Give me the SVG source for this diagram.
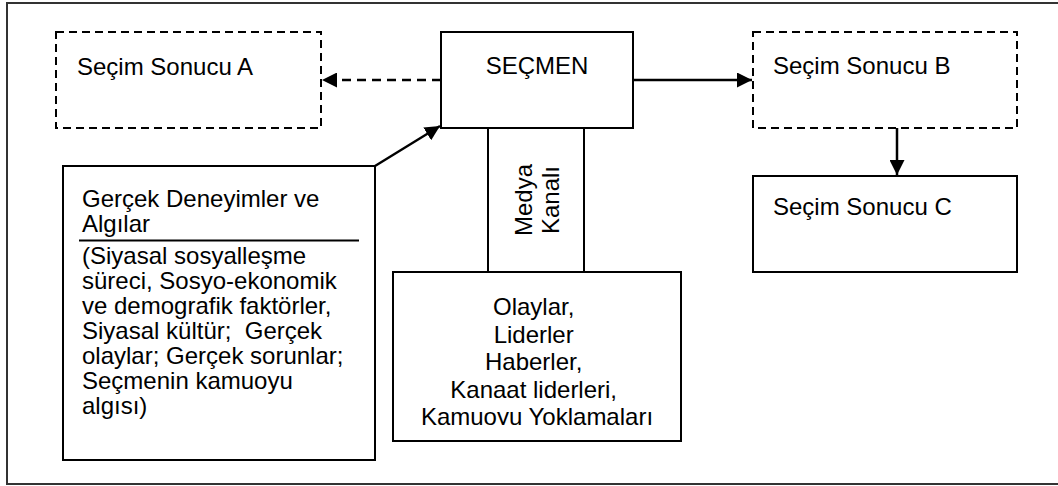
<svg xmlns="http://www.w3.org/2000/svg" width="1058" height="486" viewBox="0 0 1058 486">
<defs>
<style>
.t{font-family:"Liberation Sans",Arial,sans-serif;font-size:24px;fill:#000}
.box{fill:#fff;stroke:#000;stroke-width:2}
.dash{fill:#fff;stroke:#000;stroke-width:2;stroke-dasharray:8 5}
.ln{stroke:#000;stroke-width:2.5;fill:none}
</style>
<marker id="ah" viewBox="0 0 10 10" refX="10" refY="5" markerWidth="15" markerHeight="15" markerUnits="userSpaceOnUse" orient="auto">
<path d="M0,0 L10,5 L0,10 z" fill="#000"/>
</marker>
<clipPath id="clipBot"><rect x="393" y="272" width="288" height="153"/></clipPath>
</defs>
<rect x="7" y="3" width="1070" height="481" fill="#fff" stroke="#333" stroke-width="2"/>
<g id="connectors">
<line class="ln" x1="441" y1="80" x2="322" y2="80" stroke-dasharray="9 6" marker-end="url(#ah)"/>
<line class="ln" x1="633" y1="80" x2="752" y2="80" marker-end="url(#ah)"/>
<line class="ln" x1="897" y1="128" x2="897" y2="175" marker-end="url(#ah)"/>
<line class="ln" x1="375" y1="166" x2="440" y2="126" marker-end="url(#ah)"/>
</g>
<g id="sonucA">
<rect class="dash" x="56" y="32" width="265" height="96"/>
<text class="t" x="77" y="75">Seçim Sonucu A</text>
</g>
<g id="secmen">
<rect class="box" x="441" y="32" width="192" height="96"/>
<text class="t" x="537" y="74" text-anchor="middle">SEÇMEN</text>
</g>
<g id="sonucB">
<rect class="dash" x="753" y="32" width="264" height="96"/>
<text class="t" x="773" y="74">Seçim Sonucu B</text>
</g>
<g id="sonucC">
<rect class="box" x="753" y="176" width="264" height="96"/>
<text class="t" x="773" y="215">Seçim Sonucu C</text>
</g>
<g id="medya">
<rect class="box" x="488" y="128" width="96" height="144"/>
<text class="t" transform="translate(532,200) rotate(-90)" text-anchor="middle">Medya</text>
<text class="t" transform="translate(559,200) rotate(-90)" text-anchor="middle">Kanalı</text>
</g>
<g id="olaylar">
<rect class="box" x="393" y="272" width="288" height="169"/>
<g clip-path="url(#clipBot)">
<text class="t" text-anchor="middle">
<tspan x="537" y="315">Olaylar,</tspan>
<tspan x="537" y="342.5">Liderler</tspan>
<tspan x="537" y="370">Haberler,</tspan>
<tspan x="537" y="397.5">Kanaat liderleri,</tspan>
<tspan x="537" y="425">Kamuoyu Yoklamaları</tspan>
</text>
</g>
</g>
<g id="gercek">
<rect class="box" x="63" y="166" width="312" height="294"/>
<text class="t" x="82" y="207">Gerçek Deneyimler ve</text>
<text class="t" x="82" y="232">Algılar</text>
<line x1="79" y1="240.5" x2="359" y2="240.5" stroke="#000" stroke-width="2"/>
<text class="t" x="82" y="264">(Siyasal sosyalleşme</text>
<text class="t" x="82" y="289">süreci, Sosyo-ekonomik</text>
<text class="t" x="82" y="314">ve demografik faktörler,</text>
<text class="t" x="82" y="339" xml:space="preserve">Siyasal kültür;  Gerçek</text>
<text class="t" x="82" y="364">olaylar; Gerçek sorunlar;</text>
<text class="t" x="82" y="389">Seçmenin kamuoyu</text>
<text class="t" x="82" y="414">algısı)</text>
</g>
</svg>
